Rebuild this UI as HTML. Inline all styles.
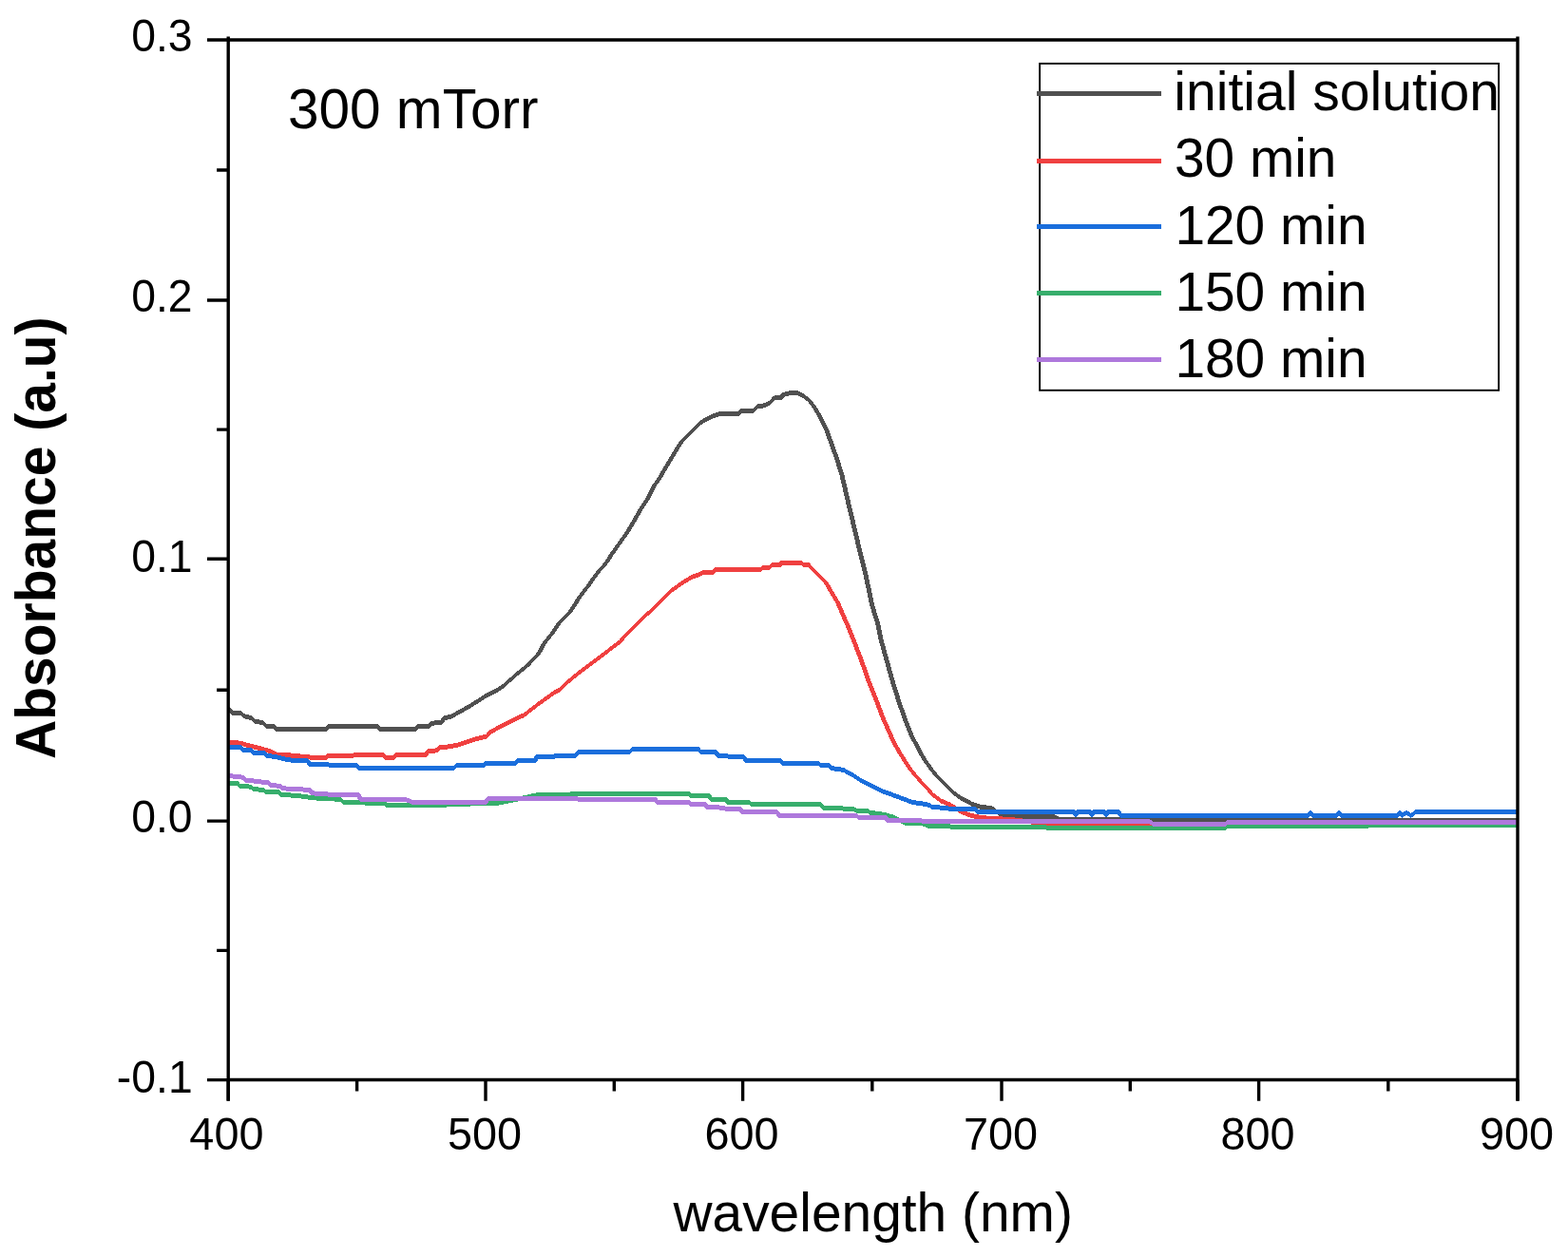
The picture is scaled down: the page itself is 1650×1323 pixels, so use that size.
<!DOCTYPE html>
<html><head><meta charset="utf-8"><title>Absorbance spectra</title>
<style>
html,body{margin:0;padding:0;background:#fff;}
body{width:1650px;height:1323px;overflow:hidden;}
svg{display:block;}
text{font-family:"Liberation Sans",Arial,sans-serif;fill:#000;}
.t46{font-size:46px;}
.t58{font-size:58px;}
.t58b{font-size:58px;font-weight:bold;}
</style></head>
<body>
<svg width="1650" height="1323" viewBox="0 0 1650 1323">
<rect width="1650" height="1323" fill="#fff"/>
<clipPath id="plotclip"><rect x="239" y="40" width="1359" height="1097"/></clipPath>
<g clip-path="url(#plotclip)">
<path d="M237.5,747 240,744.5 241.3,744.2 243.8,746.7 241.3,749.2 240,749.5ZM238.8,746.7 241.3,744.2 243.8,746.7 247.2,750.4 244.7,752.9 242.2,750.4ZM242.2,750.4 244.7,747.9 253.8,747.9 256.3,750.4 253.8,752.9 244.7,752.9ZM251.3,750.4 253.8,747.9 256.3,750.4 259.6,753.7 257.1,756.2 254.6,753.7ZM254.6,753.7 257.1,751.2 264.6,753.3 267.1,755.8 264.6,758.3 257.1,756.2ZM262.1,755.8 264.6,753.3 268,756.6 270.5,759.1 268,761.6 264.6,758.3ZM265.5,759.1 268,756.6 277.1,758.3 279.6,760.8 277.1,763.3 268,761.6ZM274.6,760.8 277.1,758.3 279.6,760.8 282.9,764.1 280.4,766.6 277.9,764.1ZM277.9,764.1 280.4,761.6 287.9,761.6 290.4,764.1 287.9,766.6 280.4,766.6ZM285.4,764.1 287.9,761.6 290.4,764.1 293.7,767.9 291.2,770.4 288.7,767.9ZM288.7,767.9 291.2,765.4 343.6,765.4 346.1,767.9 343.6,770.4 291.2,770.4ZM341.1,767.9 343.6,764.3 346.1,761.8 348.6,764.3 346.1,767.9 343.6,770.4ZM343.6,764.3 346.1,761.8 397.4,761.9 399.9,764.4 397.4,766.9 346.1,766.8ZM394.9,764.4 397.4,761.9 399.9,764.4 402.4,767.9 399.9,770.4 397.4,767.9ZM397.4,767.9 399.9,765.4 437.3,765.4 439.8,767.9 437.3,770.4 399.9,770.4ZM434.8,767.9 437.3,764.5 439.8,762 442.3,764.5 439.8,767.9 437.3,770.4ZM437.3,764.5 439.8,762 451.5,761.6 454,764.1 451.5,766.6 439.8,767ZM449,764.1 450.6,761.6 453.1,759.1 455.6,761.6 454,764.1 451.5,766.6ZM450.6,761.6 453.1,759.1 464.8,757.5 467.3,760 464.8,762.5 453.1,764.1ZM462.3,760 464.8,755.8 467.3,753.3 469.8,755.8 467.3,760 464.8,762.5ZM464.8,755.8 467.3,753.3 475,751.6 477.5,754.1 475,756.6 467.3,758.3ZM472.5,754.1 475,751.6 481.3,747.9 483.8,750.4 481.3,752.9 475,756.6ZM478.8,750.4 481.3,747.9 494.9,740.5 497.4,743 494.9,745.5 481.3,752.9ZM492.4,743 494.9,740.5 509.7,730.9 512.2,733.4 509.7,735.9 494.9,745.5ZM507.2,733.4 509.7,730.9 521,725.2 523.5,727.7 521,730.2 509.7,735.9ZM518.5,727.7 521,725.2 529,720.1 531.5,722.6 529,725.1 521,730.2ZM526.5,722.6 529,720.1 543.7,707.1 546.2,709.6 543.7,712.1 529,725.1ZM541.2,709.6 543.7,707.1 556.2,696.9 558.7,699.4 556.2,701.9 543.7,712.1ZM553.7,699.4 565,686.9 567.5,684.4 570,686.9 558.7,699.4 556.2,701.9ZM565,686.9 569.5,677.8 572,675.3 574.5,677.8 570,686.9 567.5,689.4ZM569.5,677.8 578.6,666.5 581.1,664 583.6,666.5 574.5,677.8 572,680.3ZM578.6,666.5 585.4,656.3 587.9,653.8 590.4,656.3 583.6,666.5 581.1,669ZM585.4,656.3 587.9,653.8 599.3,642.5 601.8,645 599.3,647.5 587.9,658.8ZM596.8,645 598.8,642 601.3,639.5 603.8,642 601.8,645 599.3,647.5ZM598.8,642 607.8,627.8 610.3,625.3 612.8,627.8 603.8,642 601.3,644.5ZM607.8,627.8 616.8,616.2 619.3,613.7 621.8,616.2 612.8,627.8 610.3,630.3ZM616.8,616.2 625.8,603.4 628.3,600.9 630.8,603.4 621.8,616.2 619.3,618.7ZM625.8,603.4 634.8,593.1 637.3,590.6 639.8,593.1 630.8,603.4 628.3,605.9ZM634.8,593.1 642.5,581.5 645,579 647.5,581.5 639.8,593.1 637.3,595.6ZM642.5,581.5 648.9,572.5 651.4,570 653.9,572.5 647.5,581.5 645,584ZM648.9,572.5 657.9,559.7 660.4,557.2 662.9,559.7 653.9,572.5 651.4,575ZM657.9,559.7 665.6,546.8 668.1,544.3 670.6,546.8 662.9,559.7 660.4,562.2ZM665.6,546.8 672.1,535.3 674.6,532.8 677.1,535.3 670.6,546.8 668.1,549.3ZM672.1,535.3 679.8,523.7 682.3,521.2 684.8,523.7 677.1,535.3 674.6,537.8ZM679.8,523.7 686.2,510.8 688.7,508.3 691.2,510.8 684.8,523.7 682.3,526.2ZM686.2,510.8 692.6,501.9 695.1,499.4 697.6,501.9 691.2,510.8 688.7,513.3ZM692.6,501.9 697.5,492.7 700,490.2 702.5,492.7 697.6,501.9 695.1,504.4ZM697.5,492.7 702.7,484.5 705.2,482 707.7,484.5 702.5,492.7 700,495.2ZM702.7,484.5 708.8,474.2 711.3,471.7 713.8,474.2 707.7,484.5 705.2,487ZM708.8,474.2 714,465.9 716.5,463.4 719,465.9 713.8,474.2 711.3,476.7ZM714,465.9 716.5,463.4 723.7,456.2 726.2,458.7 723.7,461.2 716.5,468.4ZM721.2,458.7 728.4,451.5 730.9,449 733.4,451.5 726.2,458.7 723.7,461.2ZM728.4,451.5 730.9,449 738.1,441.8 740.6,444.3 738.1,446.8 730.9,454ZM735.6,444.3 738.1,441.8 744.3,438.2 746.8,440.7 744.3,443.2 738.1,446.8ZM741.8,440.7 744.3,438.2 750.5,435.1 753,437.6 750.5,440.1 744.3,443.2ZM748,437.6 750.5,435.1 757.7,433 760.2,435.5 757.7,438 750.5,440.1ZM755.2,435.5 757.7,433 777.3,433 779.8,435.5 777.3,438 757.7,438ZM774.8,435.5 776.8,433 779.3,430.5 781.8,433 779.8,435.5 777.3,438ZM776.8,433 779.3,430.5 792.7,430 795.2,432.5 792.7,435 779.3,435.5ZM790.2,432.5 794.3,427.8 796.8,425.3 799.3,427.8 795.2,432.5 792.7,435ZM794.3,427.8 796.8,425.3 804.1,424.3 806.6,426.8 804.1,429.3 796.8,430.3ZM801.6,426.8 804.1,424.3 810.2,421.2 812.7,423.7 810.2,426.2 804.1,429.3ZM807.7,423.7 811.9,419.1 814.4,416.6 816.9,419.1 812.7,423.7 810.2,426.2ZM811.9,419.1 814.4,416.6 822.6,415.5 825.1,418 822.6,420.5 814.4,421.6ZM820.1,418 821.1,415.5 823.6,413 826.1,415.5 825.1,418 822.6,420.5ZM821.1,415.5 823.6,413 830.8,411.4 833.3,413.9 830.8,416.4 823.6,418ZM828.3,413.9 830.8,411.4 840.1,411.4 842.6,413.9 840.1,416.4 830.8,416.4ZM837.6,413.9 840.1,411.4 846.3,414.5 848.8,417 846.3,419.5 840.1,416.4ZM843.8,417 846.3,414.5 852.5,420.2 855,422.7 852.5,425.2 846.3,419.5ZM850,422.7 852.5,420.2 855,422.7 861.2,430.9 858.7,433.4 856.2,430.9ZM856.2,430.9 858.7,428.4 861.2,430.9 865.8,440 863.3,442.5 860.8,440ZM860.8,440 863.3,437.5 865.8,440 872.6,453.6 870.1,456.1 867.6,453.6ZM867.6,453.6 870.1,451.1 872.6,453.6 878.6,470.2 876.1,472.7 873.6,470.2ZM873.6,470.2 876.1,467.7 878.6,470.2 883.9,485.3 881.4,487.8 878.9,485.3ZM878.9,485.3 881.4,482.8 883.9,485.3 888.5,500.4 886,502.9 883.5,500.4ZM883.5,500.4 886,497.9 888.5,500.4 892,515.5 889.5,518 887,515.5ZM887,515.5 889.5,513 892,515.5 895.5,530.6 893,533.1 890.5,530.6ZM890.5,530.6 893,528.1 895.5,530.6 899.1,545.7 896.6,548.2 894.1,545.7ZM894.1,545.7 896.6,543.2 899.1,545.7 902.7,560.8 900.2,563.3 897.7,560.8ZM897.7,560.8 900.2,558.3 902.7,560.8 906.3,576 903.8,578.5 901.3,576ZM901.3,576 903.8,573.5 906.3,576 910,591.1 907.5,593.6 905,591.1ZM905,591.1 907.5,588.6 910,591.1 913.8,606.2 911.3,608.7 908.8,606.2ZM908.8,606.2 911.3,603.7 913.8,606.2 916.9,621.3 914.4,623.8 911.9,621.3ZM911.9,621.3 914.4,618.8 916.9,621.3 920,636.4 917.5,638.9 915,636.4ZM915,636.4 917.5,633.9 920,636.4 926,656 923.5,658.5 921,656ZM921,656 923.5,653.5 926,656 930.1,675.4 927.6,677.9 925.1,675.4ZM925.1,675.4 927.6,672.9 930.1,675.4 934.5,691 932,693.5 929.5,691ZM929.5,691 932,688.5 934.5,691 939.1,708 936.6,710.5 934.1,708ZM934.1,708 936.6,705.5 939.1,708 943.9,724.4 941.4,726.9 938.9,724.4ZM938.9,724.4 941.4,721.9 943.9,724.4 949.2,740.7 946.7,743.2 944.2,740.7ZM944.2,740.7 946.7,738.2 949.2,740.7 954.8,757 952.3,759.5 949.8,757ZM949.8,757 952.3,754.5 954.8,757 961.3,773.3 958.8,775.8 956.3,773.3ZM956.3,773.3 958.8,770.8 961.3,773.3 969.9,790 967.4,792.5 964.9,790ZM964.9,790 967.4,787.5 969.9,790 974.9,798.7 972.4,801.2 969.9,798.7ZM969.9,798.7 972.4,796.2 974.9,798.7 981.4,808.2 978.9,810.7 976.4,808.2ZM976.4,808.2 978.9,805.7 981.4,808.2 988.7,817.6 986.2,820.1 983.7,817.6ZM983.7,817.6 986.2,815.1 988.7,817.6 997.4,826.4 994.9,828.9 992.4,826.4ZM992.4,826.4 994.9,823.9 1003.6,831.9 1006.1,834.4 1003.6,836.9 994.9,828.9ZM1001.1,834.4 1003.6,831.9 1012.4,838.4 1014.9,840.9 1012.4,843.4 1003.6,836.9ZM1009.9,840.9 1012.4,838.4 1022.5,843.5 1025,846 1022.5,848.5 1012.4,843.4ZM1020,846 1022.5,843.5 1032.7,847.1 1035.2,849.6 1032.7,852.1 1022.5,848.5ZM1030.2,849.6 1032.7,847.1 1043.6,847.9 1046.1,850.4 1043.6,852.9 1032.7,852.1ZM1041.1,850.4 1043.6,847.9 1055.5,856.7 1058,859.2 1055.5,861.7 1043.6,852.9ZM1053,859.2 1055.5,856.7 1080,857.1 1082.5,859.6 1080,862.1 1055.5,861.7ZM1077.5,859.6 1080,857.1 1109.7,857.3 1112.2,859.8 1109.7,862.3 1080,862.1ZM1107.2,859.8 1109.7,857.3 1114.5,860 1117,862.5 1114.5,865 1109.7,862.3ZM1112,862.5 1114.5,860 1210,860 1212.5,862.5 1210,865 1114.5,865ZM1207.5,862.5 1210,860 1214,860.7 1216.5,863.2 1214,865.7 1210,865ZM1211.5,863.2 1214,860.7 1597,860.6 1599.5,863.1 1597,865.6 1214,865.7Z" fill="#505050" fill-rule="nonzero" shape-rendering="crispEdges"/>
<path d="M237.5,781.6 240,779.1 249.6,779.1 252.1,781.6 249.6,784.1 240,784.1ZM247.1,781.6 249.6,779.1 256.3,780.7 258.8,783.2 256.3,785.7 249.6,784.1ZM253.8,783.2 256.3,780.7 265.4,783.2 267.9,785.7 265.4,788.2 256.3,785.7ZM262.9,785.7 265.4,783.2 275.4,785.7 277.9,788.2 275.4,790.7 265.4,788.2ZM272.9,788.2 275.4,785.7 284.6,788.2 287.1,790.7 284.6,793.2 275.4,790.7ZM282.1,790.7 284.6,788.2 291.2,791.5 293.7,794 291.2,796.5 284.6,793.2ZM288.7,794 291.2,791.5 304.5,792.4 307,794.9 304.5,797.4 291.2,796.5ZM302,794.9 304.5,792.4 321.2,794 323.7,796.5 321.2,799 304.5,797.4ZM318.7,796.5 321.2,794 329.5,794.9 332,797.4 329.5,799.9 321.2,799ZM327,797.4 329.5,794.9 343.6,794.9 346.1,797.4 343.6,799.9 329.5,799.9ZM341.1,797.4 342.8,795.1 345.3,792.6 347.8,795.1 346.1,797.4 343.6,799.9ZM342.8,795.1 345.3,792.6 404.1,792.4 406.6,794.9 404.1,797.4 345.3,797.6ZM401.6,794.9 404.1,792.4 406.6,794.9 407.4,797.2 404.9,799.7 402.4,797.2ZM402.4,797.2 404.9,794.7 414.9,794.7 417.4,797.2 414.9,799.7 404.9,799.7ZM412.4,797.2 413.2,794.9 415.7,792.4 418.2,794.9 417.4,797.2 414.9,799.7ZM413.2,794.9 415.7,792.4 448.1,792.4 450.6,794.9 448.1,797.4 415.7,797.4ZM445.6,794.9 448.1,790.3 450.6,787.8 453.1,790.3 450.6,794.9 448.1,797.4ZM448.1,790.3 450.6,787.8 460.6,787.4 463.1,789.9 460.6,792.4 450.6,792.8ZM458.1,789.9 459.8,787 462.3,784.5 464.8,787 463.1,789.9 460.6,792.4ZM459.8,787 462.3,784.5 473.1,783.2 475.6,785.7 473.1,788.2 462.3,789.5ZM470.6,785.7 473.1,783.2 480.1,782 482.6,784.5 480.1,787 473.1,788.2ZM477.6,784.5 480.1,782 489.5,779 492,781.5 489.5,784 480.1,787ZM487,781.5 489.5,779 495.4,776.9 497.9,779.4 495.4,781.9 489.5,784ZM492.9,779.4 495.4,776.9 502.6,774.7 505.1,777.2 502.6,779.7 495.4,781.9ZM500.1,777.2 502.6,774.7 511.4,772.9 513.9,775.4 511.4,777.9 502.6,779.7ZM508.9,775.4 512.9,771 515.4,768.5 517.9,771 513.9,775.4 511.4,777.9ZM512.9,771 515.4,768.5 526.7,762 529.2,764.5 526.7,767 515.4,773.5ZM524.2,764.5 526.7,762 543.7,753.5 546.2,756 543.7,758.5 526.7,767ZM541.2,756 543.7,753.5 551.6,750.2 554.1,752.7 551.6,755.2 543.7,758.5ZM549.1,752.7 551.6,750.2 565.2,739.4 567.7,741.9 565.2,744.4 551.6,755.2ZM562.7,741.9 565.2,739.4 583.4,726.3 585.9,728.8 583.4,731.3 565.2,744.4ZM580.9,728.8 583.4,726.3 589,723.5 591.5,726 589,728.5 583.4,731.3ZM586.5,726 589,723.5 600.4,712.7 602.9,715.2 600.4,717.7 589,728.5ZM597.9,715.2 600.4,712.7 611.7,703.7 614.2,706.2 611.7,708.7 600.4,717.7ZM609.2,706.2 611.7,703.7 620.4,697.1 622.9,699.6 620.4,702.1 611.7,708.7ZM617.9,699.6 620.4,697.1 636.3,685.3 638.8,687.8 636.3,690.3 620.4,702.1ZM633.8,687.8 636.3,685.3 652.2,673 654.7,675.5 652.2,678 636.3,690.3ZM649.7,675.5 665.5,658.5 668,656 670.5,658.5 654.7,675.5 652.2,678ZM665.5,658.5 668,656 677.1,647.5 679.6,650 677.1,652.5 668,661ZM674.6,650 677.1,647.5 690,635.6 692.5,638.1 690,640.6 677.1,652.5ZM687.5,638.1 699,626.6 701.5,629.1 690,640.6ZM696.5,629.1 706.7,618.9 709.2,621.4 699,631.6ZM704.2,621.4 706.7,618.9 719.5,609.9 722,612.4 719.5,614.9 706.7,623.9ZM717,612.4 719.5,609.9 728.5,604.8 731,607.3 728.5,609.8 719.5,614.9ZM726,607.3 728.5,604.8 736.2,602.2 738.7,604.7 736.2,607.2 728.5,609.8ZM733.7,604.7 736.2,602.2 740.1,600 742.6,602.5 740.1,605 736.2,607.2ZM737.6,602.5 740.1,600 750.7,600.1 753.2,602.6 750.7,605.1 740.1,605ZM748.2,602.6 750.1,599.4 752.6,596.9 755.1,599.4 753.2,602.6 750.7,605.1ZM750.1,599.4 752.6,596.9 801.1,596.9 803.6,599.4 801.1,601.9 752.6,601.9ZM798.6,599.4 800.5,597 803,594.5 805.5,597 803.6,599.4 801.1,601.9ZM800.5,597 803,594.5 809.8,594.5 812.3,597 809.8,599.5 803,599.5ZM807.3,597 809.8,594.5 812.7,591.6 815.2,594.1 812.7,596.6 809.8,599.5ZM810.2,594.1 812.7,591.6 821.5,591.6 824,594.1 821.5,596.6 812.7,596.6ZM819,594.1 819.9,592.1 822.4,589.6 824.9,592.1 824,594.1 821.5,596.6ZM819.9,592.1 822.4,589.6 842.8,589.6 845.3,592.1 842.8,594.6 822.4,594.6ZM840.3,592.1 842.8,589.6 847.3,594.1 844.8,596.6ZM842.3,594.1 844.8,591.6 850.6,591.6 853.1,594.1 850.6,596.6 844.8,596.6ZM848.1,594.1 850.6,591.6 853.1,594.1 861.8,603.3 859.3,605.8 856.8,603.3ZM856.8,603.3 859.3,600.8 871.5,613 869,615.5ZM866.5,613 869,610.5 871.5,613 878.3,624.6 875.8,627.1 873.3,624.6ZM873.3,624.6 875.8,622.1 878.3,624.6 884.1,634.3 881.6,636.8 879.1,634.3ZM879.1,634.3 881.6,631.8 884.1,634.3 889,646 886.5,648.5 884,646ZM884,646 886.5,643.5 889,646 893.8,656.6 891.3,659.1 888.8,656.6ZM888.8,656.6 891.3,654.1 893.8,656.6 898.2,667.5 895.7,670 893.2,667.5ZM893.2,667.5 895.7,665 898.2,667.5 906.1,687.6 903.6,690.1 901.1,687.6ZM901.1,687.6 903.6,685.1 906.1,687.6 912.1,703.9 909.6,706.4 907.1,703.9ZM907.1,703.9 909.6,701.4 912.1,703.9 917.8,720.3 915.3,722.8 912.8,720.3ZM912.8,720.3 915.3,717.8 917.8,720.3 924.5,736.6 922,739.1 919.5,736.6ZM919.5,736.6 922,734.1 924.5,736.6 930.5,752.9 928,755.4 925.5,752.9ZM925.5,752.9 928,750.4 930.5,752.9 937,767.9 934.5,770.4 932,767.9ZM932,767.9 934.5,765.4 937,767.9 943.8,782.9 941.3,785.4 938.8,782.9ZM938.8,782.9 941.3,780.4 943.8,782.9 951,795.1 948.5,797.6 946,795.1ZM946,795.1 948.5,792.6 951,795.1 958.5,807 956,809.5 953.5,807ZM953.5,807 956,804.5 958.5,807 965,815.2 962.5,817.7 960,815.2ZM960,815.2 962.5,812.7 965,815.2 974.1,825.7 971.6,828.2 969.1,825.7ZM969.1,825.7 971.6,823.2 974.1,825.7 984.3,836.5 981.8,839 979.3,836.5ZM979.3,836.5 981.8,834 990.5,840.6 993,843.1 990.5,845.6 981.8,839ZM988,843.1 990.5,840.6 1000.7,845 1003.2,847.5 1000.7,850 990.5,845.6ZM998.2,847.5 1000.7,845 1010.9,851.5 1013.4,854 1010.9,856.5 1000.7,850ZM1008.4,854 1010.9,851.5 1021.8,855.9 1024.3,858.4 1021.8,860.9 1010.9,856.5ZM1019.3,858.4 1021.8,855.9 1032.7,858 1035.2,860.5 1032.7,863 1021.8,860.9ZM1030.2,860.5 1032.7,858 1043.6,859.1 1046.1,861.6 1043.6,864.1 1032.7,863ZM1041.1,861.6 1043.6,859.1 1060.4,859.7 1062.9,862.2 1060.4,864.7 1043.6,864.1ZM1057.9,862.2 1060.4,859.7 1085,862.5 1087.5,865 1085,867.5 1060.4,864.7ZM1082.5,865 1085,862.5 1105,865.8 1107.5,868.3 1105,870.8 1085,867.5ZM1102.5,868.3 1105,865.8 1212,865.8 1214.5,868.3 1212,870.8 1105,870.8ZM1209.5,868.3 1212,865.8 1216,868.9 1218.5,871.4 1216,873.9 1212,870.8ZM1213.5,871.4 1216,868.9 1289,868.9 1291.5,871.4 1289,873.9 1216,873.9ZM1286.5,871.4 1289,868.9 1292,866.7 1294.5,869.2 1292,871.7 1289,873.9ZM1289.5,869.2 1292,866.7 1597,866.3 1599.5,868.8 1597,871.3 1292,871.7Z" fill="#f04040" fill-rule="nonzero" shape-rendering="crispEdges"/>
<path d="M237.5,786.6 240,784.1 253.8,784.1 256.3,786.6 253.8,789.1 240,789.1ZM251.3,786.6 253.8,784.1 256.3,786.6 258,789.1 255.5,791.6 253,789.1ZM253,789.1 255.5,786.6 264.6,787.4 267.1,789.9 264.6,792.4 255.5,791.6ZM262.1,789.9 264.6,787.4 267.1,789.9 268.8,792.4 266.3,794.9 263.8,792.4ZM263.8,792.4 266.3,789.9 278.7,789.9 281.2,792.4 278.7,794.9 266.3,794.9ZM276.2,792.4 278.7,789.9 281.2,792.4 282.9,795.3 280.4,797.8 277.9,795.3ZM277.9,795.3 280.4,792.8 290.4,794 292.9,796.5 290.4,799 280.4,797.8ZM287.9,796.5 290.4,794 303.7,797.4 306.2,799.9 303.7,802.4 290.4,799ZM301.2,799.9 303.7,797.4 323.7,798.2 326.2,800.7 323.7,803.2 303.7,802.4ZM321.2,800.7 323.7,798.2 326.2,800.7 327.8,804 325.3,806.5 322.8,804ZM322.8,804 325.3,801.5 344.4,801.7 346.9,804.2 344.4,806.7 325.3,806.5ZM341.9,804.2 344.4,801.7 346.1,802.5 348.6,805 346.1,807.5 344.4,806.7ZM343.6,805 346.1,802.5 375,802.5 377.5,805 375,807.5 346.1,807.5ZM372.5,805 375,802.5 377.5,805 380,808.6 377.5,811.1 375,808.6ZM375,808.6 377.5,806.1 477.4,806.2 479.9,808.7 477.4,811.2 377.5,811.1ZM474.9,808.7 478.3,805.2 480.8,802.7 483.3,805.2 479.9,808.7 477.4,811.2ZM478.3,805.2 480.8,802.7 509.9,802.7 512.4,805.2 509.9,807.7 480.8,807.7ZM507.4,805.2 508.1,803.4 510.6,800.9 513.1,803.4 512.4,805.2 509.9,807.7ZM508.1,803.4 510.6,800.9 542.6,800.9 545.1,803.4 542.6,805.9 510.6,805.9ZM540.1,803.4 541.6,800.5 544.1,798 546.6,800.5 545.1,803.4 542.6,805.9ZM541.6,800.5 544.1,798 563,798 565.5,800.5 563,803 544.1,803ZM560.5,800.5 562,796.8 564.5,794.3 567,796.8 565.5,800.5 563,803ZM562,796.8 564.5,794.3 583.4,794.3 585.9,796.8 583.4,799.3 564.5,799.3ZM580.9,796.8 581.6,795 584.1,792.5 586.6,795 585.9,796.8 583.4,799.3ZM581.6,795 584.1,792.5 606,792.5 608.5,795 606,797.5 584.1,797.5ZM603.5,795 605.7,791.7 608.2,789.2 610.7,791.7 608.5,795 606,797.5ZM605.7,791.7 608.2,789.2 662.7,789.2 665.2,791.7 662.7,794.2 608.2,794.2ZM660.2,791.7 663.1,788.1 665.6,785.6 668.1,788.1 665.2,791.7 662.7,794.2ZM663.1,788.1 665.6,785.6 734.9,785.9 737.4,788.4 734.9,790.9 665.6,790.6ZM732.4,788.4 734.9,785.9 737.4,788.4 739.6,791.6 737.1,794.1 734.6,791.6ZM734.6,791.6 737.1,789.1 753.8,789.1 756.3,791.6 753.8,794.1 737.1,794.1ZM751.3,791.6 753.8,789.1 756.3,791.6 757.8,795.3 755.3,797.8 752.8,795.3ZM752.8,795.3 755.3,792.8 765.5,793.5 768,796 765.5,798.5 755.3,797.8ZM763,796 765.5,793.5 782.9,794.2 785.4,796.7 782.9,799.2 765.5,798.5ZM780.4,796.7 782.9,794.2 785.4,796.7 786.9,800.4 784.4,802.9 781.9,800.4ZM781.9,800.4 784.4,797.9 821.1,797.8 823.6,800.3 821.1,802.8 784.4,802.9ZM818.6,800.3 821.1,797.8 823.6,800.3 825.8,803.5 823.3,806 820.8,803.5ZM820.8,803.5 823.3,801 861.8,801 864.3,803.5 861.8,806 823.3,806ZM859.3,803.5 861.8,801 864.3,803.5 865.8,805.3 863.3,807.8 860.8,805.3ZM860.8,805.3 863.3,802.8 872.7,802.8 875.2,805.3 872.7,807.8 863.3,807.8ZM870.2,805.3 872.7,802.8 875.2,805.3 876.7,808.5 874.2,811 871.7,808.5ZM871.7,808.5 874.2,806 887.3,807.9 889.8,810.4 887.3,812.9 874.2,811ZM884.8,810.4 887.3,807.9 894.5,811.5 897,814 894.5,816.5 887.3,812.9ZM892,814 894.5,811.5 905.9,819 908.4,821.5 905.9,824 894.5,816.5ZM903.4,821.5 905.9,819 916.8,824.5 919.3,827 916.8,829.5 905.9,824ZM914.3,827 916.8,824.5 927.7,830 930.2,832.5 927.7,835 916.8,829.5ZM925.2,832.5 927.7,830 938.6,833.8 941.1,836.3 938.6,838.8 927.7,835ZM936.1,836.3 938.6,833.8 949.6,838.1 952.1,840.6 949.6,843.1 938.6,838.8ZM947.1,840.6 949.6,838.1 960.5,842 963,844.5 960.5,847 949.6,843.1ZM958,844.5 960.5,842 971.4,843.6 973.9,846.1 971.4,848.6 960.5,847ZM968.9,846.1 971.4,843.6 979,845.2 981.5,847.7 979,850.2 971.4,848.6ZM976.5,847.7 979,845.2 981.5,847.7 982.6,849.6 980.1,852.1 977.6,849.6ZM977.6,849.6 980.1,847.1 997.8,847.9 1000.3,850.4 997.8,852.9 980.1,852.1ZM995.3,850.4 997.8,847.9 999.3,849.3 1001.8,851.8 999.3,854.3 997.8,852.9ZM996.8,851.8 999.3,849.3 1026.9,849.3 1029.4,851.8 1026.9,854.3 999.3,854.3ZM1024.4,851.8 1026.9,849.3 1029.4,851.8 1030.9,854.3 1028.4,856.8 1025.9,854.3ZM1025.9,854.3 1028.4,851.8 1130,851.9 1132.5,854.4 1130,856.9 1028.4,856.8ZM1127.5,854.4 1130,851.9 1132.5,854.4 1134.5,858.4 1132,860.9 1129.5,858.4ZM1129.5,858.4 1131.5,854.4 1134,851.9 1136.5,854.4 1134.5,858.4 1132,860.9ZM1131.5,854.4 1134,851.9 1147,851.9 1149.5,854.4 1147,856.9 1134,856.9ZM1144.5,854.4 1147,851.9 1149.5,854.4 1151.5,858.4 1149,860.9 1146.5,858.4ZM1146.5,858.4 1148.5,854.4 1151,851.9 1153.5,854.4 1151.5,858.4 1149,860.9ZM1148.5,854.4 1151,851.9 1162,851.9 1164.5,854.4 1162,856.9 1151,856.9ZM1159.5,854.4 1162,851.9 1164.5,854.4 1166.5,858.4 1164,860.9 1161.5,858.4ZM1161.5,858.4 1163.5,854.4 1166,851.9 1168.5,854.4 1166.5,858.4 1164,860.9ZM1163.5,854.4 1166,851.9 1177,851.9 1179.5,854.4 1177,856.9 1166,856.9ZM1174.5,854.4 1177,851.9 1179.5,854.4 1181.5,858.4 1179,860.9 1176.5,858.4ZM1176.5,858.4 1179,855.9 1377,855.9 1379.5,858.4 1377,860.9 1179,860.9ZM1374.5,858.4 1376.5,855 1379,852.5 1381.5,855 1379.5,858.4 1377,860.9ZM1376.5,855 1379,852.5 1381.5,855 1383.5,858.4 1381,860.9 1378.5,858.4ZM1378.5,858.4 1381,855.9 1407,855.9 1409.5,858.4 1407,860.9 1381,860.9ZM1404.5,858.4 1406.5,855 1409,852.5 1411.5,855 1409.5,858.4 1407,860.9ZM1406.5,855 1409,852.5 1411.5,855 1413.5,858.4 1411,860.9 1408.5,858.4ZM1408.5,858.4 1411,855.9 1471,855.9 1473.5,858.4 1471,860.9 1411,860.9ZM1468.5,858.4 1470.5,855 1473,852.5 1475.5,855 1473.5,858.4 1471,860.9ZM1470.5,855 1473,852.5 1475.5,855 1477.5,858.4 1475,860.9 1472.5,858.4ZM1472.5,858.4 1475,855.9 1480,852.5 1482.5,855 1480,857.5 1475,860.9ZM1477.5,855 1480,852.5 1485,855.9 1487.5,858.4 1485,860.9 1480,857.5ZM1482.5,858.4 1485,855.9 1490,851.9 1492.5,854.4 1490,856.9 1485,860.9ZM1487.5,854.4 1490,851.9 1597,851.9 1599.5,854.4 1597,856.9 1490,856.9Z" fill="#1a6edc" fill-rule="nonzero" shape-rendering="crispEdges"/>
<path d="M237.5,824.8 240,822.3 249.6,821.5 252.1,824 249.6,826.5 240,827.3ZM247.1,824 249.6,821.5 252.1,824 254.6,827.3 252.1,829.8 249.6,827.3ZM249.6,827.3 252.1,824.8 264.6,825.7 267.1,828.2 264.6,830.7 252.1,829.8ZM262.1,828.2 264.6,825.7 267.1,828.1 269.6,830.6 267.1,833.1 264.6,830.7ZM264.6,830.6 267.1,828.1 277.9,829 280.4,831.5 277.9,834 267.1,833.1ZM275.4,831.5 277.9,829 280.4,831.5 282.1,833.6 279.6,836.1 277.1,833.6ZM277.1,833.6 279.6,831.1 293.7,831.5 296.2,834 293.7,836.5 279.6,836.1ZM291.2,834 293.7,831.5 296.2,834 297.9,836.5 295.4,839 292.9,836.5ZM292.9,836.5 295.4,834 312.8,834.8 315.3,837.3 312.8,839.8 295.4,839ZM310.3,837.3 312.8,834.8 329.5,837.3 332,839.8 329.5,842.3 312.8,839.8ZM327,839.8 329.5,837.3 358,838.8 360.5,841.3 358,843.8 329.5,842.3ZM355.5,841.3 358,838.8 361.7,842.3 364.2,844.8 361.7,847.3 358,843.8ZM359.2,844.8 361.7,842.3 404.9,842.7 407.4,845.2 404.9,847.7 361.7,847.3ZM402.4,845.2 404.9,842.7 407.4,845.2 409.1,847.3 406.6,849.8 404.1,847.3ZM404.1,847.3 406.6,844.8 464.8,844.8 467.3,847.3 464.8,849.8 406.6,849.8ZM462.3,847.3 464.8,844.8 480,844 482.5,846.5 480,849 464.8,849.8ZM477.5,846.5 480,844 510,843 512.5,845.5 510,848 480,849ZM507.5,845.5 510,843 525,842.5 527.5,845 525,847.5 510,848ZM522.5,845 525,842.5 545,838.5 547.5,841 545,843.5 525,847.5ZM542.5,841 545,838.5 565.2,834.3 567.7,836.8 565.2,839.3 545,843.5ZM562.7,836.8 565.2,834.3 598,834.3 600.5,836.8 598,839.3 565.2,839.3ZM595.5,836.8 598,834.3 600.2,833.2 602.7,835.7 600.2,838.2 598,839.3ZM597.7,835.7 600.2,833.2 725.5,833.5 728,836 725.5,838.5 600.2,838.2ZM723,836 725.5,833.5 728,836 729.4,837.8 726.9,840.3 724.4,837.8ZM724.4,837.8 726.9,835.3 746.5,835.3 749,837.8 746.5,840.3 726.9,840.3ZM744,837.8 746.5,835.3 749,837.8 750.5,841.1 748,843.6 745.5,841.1ZM745.5,841.1 748,838.6 764,838.6 766.5,841.1 764,843.6 748,843.6ZM761.5,841.1 764,838.6 766.5,841.1 768,844.4 765.5,846.9 763,844.4ZM763,844.4 765.5,841.9 788.7,841.9 791.2,844.4 788.7,846.9 765.5,846.9ZM786.2,844.4 788.7,841.9 791.2,844.4 792.7,846.2 790.2,848.7 787.7,846.2ZM787.7,846.2 790.2,843.7 863.3,843.6 865.8,846.1 863.3,848.6 790.2,848.7ZM860.8,846.1 863.3,843.6 865.8,846.1 868,850 865.5,852.5 863,850ZM863,850 865.5,847.5 885.8,847.9 888.3,850.4 885.8,852.9 865.5,852.5ZM883.3,850.4 885.8,847.9 887.3,849.1 889.8,851.6 887.3,854.1 885.8,852.9ZM884.8,851.6 887.3,849.1 898.9,849.3 901.4,851.8 898.9,854.3 887.3,854.1ZM896.4,851.8 898.9,849.3 901.8,850.7 904.3,853.2 901.8,855.7 898.9,854.3ZM899.3,853.2 901.8,850.7 913.5,851.2 916,853.7 913.5,856.2 901.8,855.7ZM911,853.7 913.5,851.2 915.2,852.9 917.7,855.4 915.2,857.9 913.5,856.2ZM912.7,855.4 915.2,852.9 925.6,854 928.1,856.5 925.6,859 915.2,857.9ZM923.1,856.5 925.6,854 933.2,855.6 935.7,858.1 933.2,860.6 925.6,859ZM930.7,858.1 933.2,855.6 939.7,857.4 942.2,859.9 939.7,862.4 933.2,860.6ZM937.2,859.9 939.7,857.4 953.9,864.3 956.4,866.8 953.9,869.3 939.7,862.4ZM951.4,866.8 953.9,864.3 970.3,864.3 972.8,866.8 970.3,869.3 953.9,869.3ZM967.8,866.8 970.3,864.3 977.9,867.1 980.4,869.6 977.9,872.1 970.3,869.3ZM975.4,869.6 977.9,867.1 1043.6,868.3 1046.1,870.8 1043.6,873.3 977.9,872.1ZM1041.1,870.8 1043.6,868.3 1212,868.9 1214.5,871.4 1212,873.9 1043.6,873.3ZM1209.5,871.4 1212,868.9 1289,868.9 1291.5,871.4 1289,873.9 1212,873.9ZM1286.5,871.4 1289,868.9 1292,866.7 1294.5,869.2 1292,871.7 1289,873.9ZM1289.5,869.2 1292,866.7 1597,866.3 1599.5,868.8 1597,871.3 1292,871.7Z" fill="#37ae6c" fill-rule="nonzero" shape-rendering="crispEdges"/>
<path d="M237.5,816.5 240,814 256.3,815.7 258.8,818.2 256.3,820.7 240,819ZM253.8,818.2 256.3,815.7 258.8,818.2 260.5,821.1 258,823.6 255.5,821.1ZM255.5,821.1 258,818.6 269.6,819.8 272.1,822.3 269.6,824.8 258,823.6ZM267.1,822.3 269.6,819.8 282.9,821.5 285.4,824 282.9,826.5 269.6,824.8ZM280.4,824 282.9,821.5 285.4,824 287.1,826.5 284.6,829 282.1,826.5ZM282.1,826.5 284.6,824 295.4,824.8 297.9,827.3 295.4,829.8 284.6,829ZM292.9,827.3 295.4,824.8 297.9,827.3 299.5,829.8 297,832.3 294.5,829.8ZM294.5,829.8 297,827.3 312.8,828.1 315.3,830.6 312.8,833.1 297,832.3ZM310.3,830.6 312.8,828.1 326.2,829 328.7,831.5 326.2,834 312.8,833.1ZM323.7,831.5 326.2,829 328.7,831.5 330.3,834.8 327.8,837.3 325.3,834.8ZM325.3,834.8 327.8,832.3 355,834.2 357.5,836.7 355,839.2 327.8,837.3ZM352.5,836.7 355,834.2 377.5,834.4 380,836.9 377.5,839.4 355,839.2ZM375,836.9 377.5,834.4 380,836.9 381.6,841 379.1,843.5 376.6,841ZM376.6,841 379.1,838.5 419.9,838.5 422.4,841 419.9,843.5 379.1,843.5ZM417.4,841 419.9,838.5 429.8,839.8 432.3,842.3 429.8,844.8 419.9,843.5ZM427.3,842.3 429.8,839.8 433.2,841.5 435.7,844 433.2,846.5 429.8,844.8ZM430.7,844 433.2,841.5 475,841.8 477.5,844.3 475,846.8 433.2,846.5ZM472.5,844.3 475,841.8 511.4,841.9 513.9,844.4 511.4,846.9 475,846.8ZM508.9,844.4 510.3,840.9 512.8,838.4 515.3,840.9 513.9,844.4 511.4,846.9ZM510.3,840.9 512.8,838.4 689.6,838.6 692.1,841.1 689.6,843.6 512.8,843.4ZM687.1,841.1 689.6,838.6 692.1,841.1 694.3,844.4 691.8,846.9 689.3,844.4ZM689.3,844.4 691.8,841.9 725.5,841.9 728,844.4 725.5,846.9 691.8,846.9ZM723,844.4 725.5,841.9 728,844.4 729.4,846.5 726.9,849 724.4,846.5ZM724.4,846.5 726.9,844 742.2,844 744.7,846.5 742.2,849 726.9,849ZM739.7,846.5 742.2,844 744.7,846.5 746.1,849.5 743.6,852 741.1,849.5ZM741.1,849.5 743.6,847 761.8,847.7 764.3,850.2 761.8,852.7 743.6,852ZM759.3,850.2 761.8,847.7 763.3,849.1 765.8,851.6 763.3,854.1 761.8,852.7ZM760.8,851.6 763.3,849.1 779.3,849.1 781.8,851.6 779.3,854.1 763.3,854.1ZM776.8,851.6 779.3,849.1 781.8,851.6 783.2,854.4 780.7,856.9 778.2,854.4ZM778.2,854.4 780.7,851.9 817.5,851.9 820,854.4 817.5,856.9 780.7,856.9ZM815,854.4 817.5,851.9 820,854.4 822.1,858.3 819.6,860.8 817.1,858.3ZM817.1,858.3 819.6,855.8 901.8,855.9 904.3,858.4 901.8,860.9 819.6,860.8ZM899.3,858.4 901.8,855.9 903.7,857.8 906.2,860.3 903.7,862.8 901.8,860.9ZM901.2,860.3 903.7,857.8 932.1,857.8 934.6,860.3 932.1,862.8 903.7,862.8ZM929.6,860.3 932.1,857.8 934.6,860.3 935.7,863.5 933.2,866 930.7,863.5ZM930.7,863.5 933.2,861 969.7,861.1 972.2,863.6 969.7,866.1 933.2,866ZM967.2,863.6 969.7,861.1 972.2,863.6 973.3,865 970.8,867.5 968.3,865ZM968.3,865 970.8,862.5 1080,862.4 1082.5,864.9 1080,867.4 970.8,867.5ZM1077.5,864.9 1080,862.4 1210,862.4 1212.5,864.9 1210,867.4 1080,867.4ZM1207.5,864.9 1210,862.4 1214,864.9 1216.5,867.4 1214,869.9 1210,867.4ZM1211.5,867.4 1214,864.9 1289,864.9 1291.5,867.4 1289,869.9 1214,869.9ZM1286.5,867.4 1289,864.9 1292,862.6 1294.5,865.1 1292,867.6 1289,869.9ZM1289.5,865.1 1292,862.6 1597,862.5 1599.5,865 1597,867.5 1292,867.6Z" fill="#ae78dc" fill-rule="nonzero" shape-rendering="crispEdges"/>
</g>
<path d="M218,42.00 H240.20 M218,316.00 H240.20 M218,588.30 H240.20 M218,864.10 H240.20 M218,1136.60 H240.20 M228.1,179.00 H240.20 M228.1,452.15 H240.20 M228.1,726.20 H240.20 M228.1,1000.35 H240.20 M240.20,1136.50 V1158.7 M511.00,1136.50 V1158.7 M781.60,1136.50 V1158.7 M1054.00,1136.50 V1158.7 M1324.60,1136.50 V1158.7 M1597.00,1136.50 V1158.7 M375.60,1136.50 V1148.5 M646.30,1136.50 V1148.5 M917.80,1136.50 V1148.5 M1189.30,1136.50 V1148.5 M1460.80,1136.50 V1148.5" stroke="#000" stroke-width="3.4" fill="none"/>
<path d="M240.20,38.6 V1158.6 M1597.00,38.6 V1158.6 M240.20,42.0 H1597.00 M240.20,1136.5 H1597.00" stroke="#000" stroke-width="3.4" fill="none"/>
<rect x="1094.1" y="66.9" width="483.0" height="343.9" fill="none" stroke="#000" stroke-width="1.9"/>
<path d="M1091.3,98.9 H1222.4" stroke="#505050" stroke-width="5" shape-rendering="crispEdges"/>
<path d="M1091.3,169.0 H1222.4" stroke="#f04040" stroke-width="5" shape-rendering="crispEdges"/>
<path d="M1091.3,238.5 H1222.4" stroke="#1a6edc" stroke-width="5" shape-rendering="crispEdges"/>
<path d="M1091.3,308.4 H1222.4" stroke="#37ae6c" stroke-width="5" shape-rendering="crispEdges"/>
<path d="M1091.3,378.2 H1222.4" stroke="#ae78dc" stroke-width="5" shape-rendering="crispEdges"/>
<text transform="matrix(0.9847 0 0 1.0050 1235.33 116.32)" class="t58">initial solution</text>
<text transform="matrix(0.9790 0 0 1.0000 1236.05 186.10)" class="t58">30 min</text>
<text transform="matrix(0.9800 0 0 1.0000 1236.40 257.25)" class="t58">120 min</text>
<text transform="matrix(0.9800 0 0 1.0000 1236.40 327.35)" class="t58">150 min</text>
<text transform="matrix(0.9800 0 0 1.0000 1236.40 397.15)" class="t58">180 min</text>
<text transform="matrix(1.0070 0 0 1.0500 202.64 53.60)" class="t46" text-anchor="end">0.3</text>
<text transform="matrix(1.0070 0 0 1.0500 202.64 327.80)" class="t46" text-anchor="end">0.2</text>
<text transform="matrix(1.0070 0 0 1.0500 202.64 601.80)" class="t46" text-anchor="end">0.1</text>
<text transform="matrix(1.0070 0 0 1.0500 202.64 875.60)" class="t46" text-anchor="end">0.0</text>
<text transform="matrix(1.0070 0 0 1.0500 202.64 1150.00)" class="t46" text-anchor="end">-0.1</text>
<text transform="matrix(1.0180 0 0 1.0600 238.40 1209.50)" class="t46" text-anchor="middle">400</text>
<text transform="matrix(1.0180 0 0 1.0600 510.00 1209.50)" class="t46" text-anchor="middle">500</text>
<text transform="matrix(1.0180 0 0 1.0600 780.60 1209.50)" class="t46" text-anchor="middle">600</text>
<text transform="matrix(1.0180 0 0 1.0600 1053.00 1209.50)" class="t46" text-anchor="middle">700</text>
<text transform="matrix(1.0180 0 0 1.0600 1323.60 1209.50)" class="t46" text-anchor="middle">800</text>
<text transform="matrix(1.0180 0 0 1.0600 1596.00 1209.50)" class="t46" text-anchor="middle">900</text>
<text transform="matrix(1.0099 0 0 1.0320 302.88 134.94)" class="t58">300 mTorr</text>
<text transform="matrix(0.9810 0 0 1.0000 708.46 1296.20)" class="t58">wavelength (nm)</text>
<text transform="translate(57.73,798.97) rotate(-90) scale(0.9827,1.0056)" class="t58b">Absorbance (a.u)</text>
</svg>
</body></html>
